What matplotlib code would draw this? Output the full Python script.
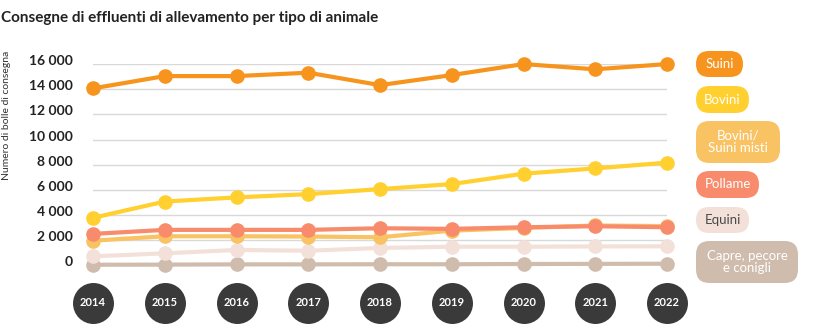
import matplotlib
matplotlib.use("Agg")
import matplotlib.pyplot as plt
from matplotlib.patches import FancyBboxPatch
import matplotlib.transforms as mtransforms

years = [2014, 2015, 2016, 2017, 2018, 2019, 2020, 2021, 2022]
suini = [14080, 15060, 15060, 15330, 14340, 15140, 16020, 15600, 16020]
bovini = [3760, 5060, 5390, 5650, 6050, 6450, 7280, 7700, 8160]
misti = [1940, 2290, 2290, 2270, 2210, 2740, 2950, 3150, 3100]
pollame = [2480, 2800, 2800, 2800, 2930, 2880, 3010, 3090, 3010]
equini = [690, 930, 1200, 1140, 1360, 1460, 1460, 1480, 1490]
capre = [20, 30, 50, 50, 60, 60, 80, 90, 100]
yticks = [0, 2000, 4000, 6000, 8000, 10000, 12000, 14000, 16000]
ytick_labels = ["0", "2 000", "4 000", "6 000", "8 000", "10 000", "12 000", "14 000", "16 000"]

series = [
    ("Capre, pecore\ne conigli", capre, "#D0BCAD", "white"),
    ("Equini", equini, "#F3E1D9", "#4a4a4a"),
    ("Bovini/\nSuini misti", misti, "#F9C262", "white"),
    ("Pollame", pollame, "#F88B6B", "white"),
    ("Bovini", bovini, "#FFD02F", "white"),
    ("Suini", suini, "#F7941E", "white"),
]

FONT = "Lato"
W, H = 836, 335
fig = plt.figure(figsize=(W / 100, H / 100), dpi=100)

# main axes: x 93..667 px, y 0 at 265 px, 16000 at 64.3 px
left, right = 93 / W, 667 / W
bottom, top = (H - 265) / H, (H - 64.3) / H
ax = fig.add_axes([left, bottom, right - left, top - bottom])
ax.set_xlim(years[0], years[-1])
ax.set_ylim(0, 16000)
for s in ax.spines.values():
    s.set_visible(False)
ax.set_xticks([])
ax.set_yticks([])
for v in yticks[1:]:
    ax.axhline(v, color="#d9d9d9", lw=1.0, zorder=1)

for i, (name, vals, col, tcol) in enumerate(series):
    ax.plot(years, vals, color=col, lw=3.0, marker="o", ms=9.5,
            solid_capstyle="round", zorder=3 + i, clip_on=False)

# y tick labels
trans = mtransforms.blended_transform_factory(ax.transAxes, ax.transData)
for v, lab in zip(yticks, ytick_labels):
    ax.text(-20 / (667 - 93), v, lab, transform=mtransforms.offset_copy(trans, fig=fig, y=3, units="dots"),
            ha="right", va="center", fontsize=10, fontweight="bold", color="#222222", family=FONT)

# year badges
btrans = mtransforms.blended_transform_factory(ax.transData, ax.transAxes)
yb = -(303 - 265) / (265 - 64.3)
ax.scatter(years, [yb] * len(years), s=870, color="#3a3a3a", transform=btrans, clip_on=False, zorder=10,
           linewidths=0)
for yr in years:
    ax.text(yr, yb, str(yr), transform=btrans, ha="center", va="center", color="white",
            fontsize=8, fontweight="bold", family=FONT, zorder=11)

# overlay in pixel coordinates
ov = fig.add_axes([0, 0, 1, 1])
ov.set_xlim(0, W)
ov.set_ylim(H, 0)
ov.axis("off")
ov.patch.set_alpha(0)

ov.text(1, 18, "Consegne di effluenti di allevamento per tipo di animale", ha="left", va="center",
        fontsize=11, fontweight="bold", color="#222222", family=FONT)
ov.text(7, 115, "Numero di bolle di consegna", rotation=90, ha="center", va="center",
        fontsize=7.5, color="#333333", family=FONT)

pills = {
    "Suini": (696, 743, 51, 77),
    "Bovini": (696, 749, 86, 113),
    "Bovini/\nSuini misti": (696, 780, 121, 163),
    "Pollame": (696, 759, 171, 198),
    "Equini": (696, 749, 207, 233),
    "Capre, pecore\ne conigli": (696, 798, 241, 283),
}
for name, vals, col, tcol in series:
    x0, x1, y0, y1 = pills[name]
    h = y1 - y0
    r = min(h / 2, 13.5)
    p = FancyBboxPatch((x0, y0), x1 - x0, h, boxstyle=f"round,pad=0,rounding_size={r}",
                       facecolor=col, edgecolor="none")
    ov.add_patch(p)
    ov.text((x0 + x1) / 2, (y0 + y1) / 2, name, ha="center", va="center", color=tcol,
            fontsize=9.5, family=FONT, linespacing=1.05)

fig.savefig("out.png", dpi=100)
